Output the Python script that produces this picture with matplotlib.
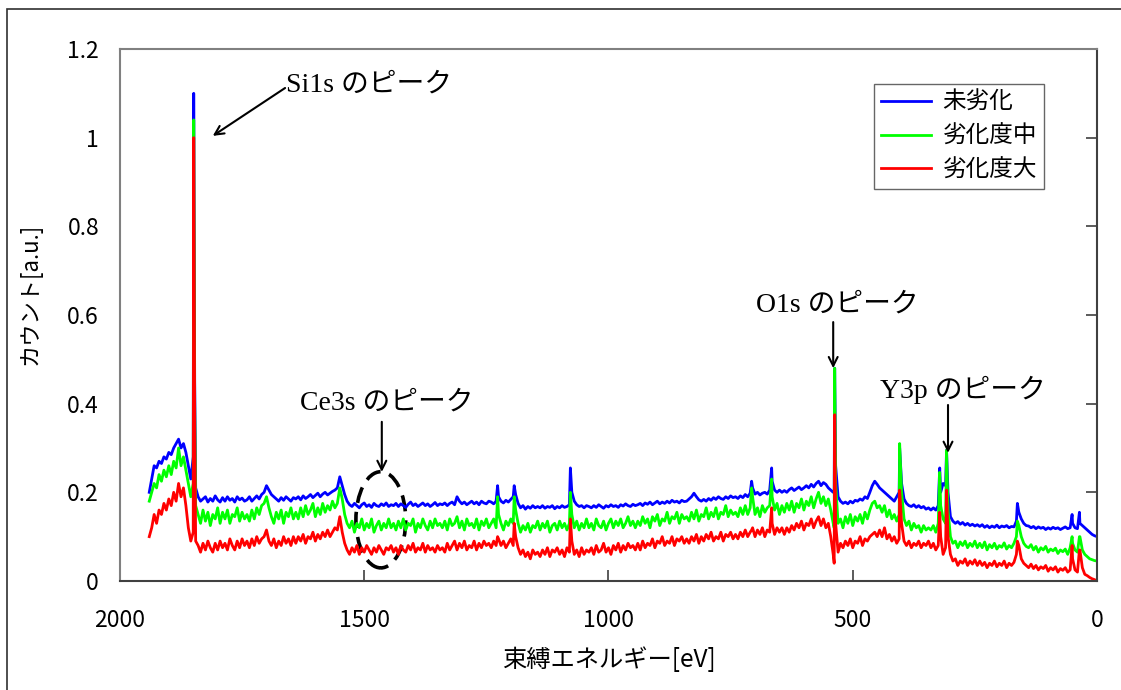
import numpy as np
import matplotlib
matplotlib.use("Agg")
import matplotlib.pyplot as plt
from matplotlib.patches import Ellipse, Rectangle

plt.rcParams['font.family'] = ['Noto Sans CJK JP', 'DejaVu Sans']

# base spectrum, read every 5 eV from 1940 eV down to 0 eV
energy = np.arange(1940, -1, -5)

blue = [
    0.20, 0.23, 0.26, 0.255, 0.27, 0.265, 0.28, 0.275, 0.29, 0.285, 0.30, 0.31, 0.32, 0.30, 0.31, 0.29, 0.26, 0.23, 0.28, 0.21,
    0.19, 0.18, 0.185, 0.19, 0.178, 0.186, 0.18, 0.192, 0.183, 0.178, 0.188, 0.18, 0.19, 0.182, 0.186, 0.178, 0.19, 0.183, 0.187, 0.18,
    0.183, 0.19, 0.18, 0.186, 0.192, 0.185, 0.195, 0.2, 0.215, 0.205, 0.195, 0.19, 0.185, 0.18, 0.188, 0.182, 0.19, 0.185, 0.18, 0.188,
    0.185, 0.19, 0.183, 0.192, 0.186, 0.19, 0.195, 0.188, 0.193, 0.198, 0.19, 0.196, 0.2, 0.194, 0.198, 0.202, 0.205, 0.21, 0.235, 0.215,
    0.195, 0.18, 0.172, 0.168, 0.175, 0.17, 0.165, 0.172, 0.176, 0.168, 0.172, 0.166, 0.175, 0.17, 0.168, 0.174, 0.17, 0.176, 0.168, 0.172,
    0.17, 0.175, 0.168, 0.174, 0.17, 0.166, 0.173, 0.178, 0.17, 0.174, 0.168, 0.172, 0.176, 0.17, 0.174, 0.168, 0.172, 0.177, 0.17, 0.174,
    0.172, 0.176, 0.17, 0.175, 0.178, 0.172, 0.19, 0.18, 0.174, 0.178, 0.172, 0.176, 0.18, 0.174, 0.178, 0.172, 0.18, 0.176, 0.174, 0.18,
    0.178, 0.174, 0.18, 0.19, 0.18, 0.176, 0.182, 0.178, 0.184, 0.19, 0.195, 0.175, 0.165, 0.17, 0.162, 0.168, 0.164, 0.17, 0.165, 0.168,
    0.165, 0.17, 0.164, 0.168, 0.166, 0.17, 0.163, 0.168, 0.165, 0.17, 0.166, 0.168, 0.172, 0.2, 0.18, 0.172, 0.168, 0.17, 0.165, 0.17,
    0.168, 0.165, 0.17, 0.166, 0.172, 0.168, 0.164, 0.17, 0.167, 0.172, 0.168, 0.17, 0.166, 0.172, 0.169, 0.174, 0.17, 0.168, 0.173, 0.17,
    0.172, 0.175, 0.17, 0.176, 0.173, 0.178, 0.172, 0.176, 0.18, 0.174, 0.178, 0.175, 0.18, 0.176, 0.182, 0.178, 0.18, 0.176, 0.182, 0.179,
    0.18, 0.185, 0.19, 0.198, 0.19, 0.183, 0.18, 0.184, 0.18, 0.186, 0.182, 0.188, 0.184, 0.19, 0.186, 0.184, 0.19, 0.186, 0.192, 0.188,
    0.19, 0.186, 0.192, 0.188, 0.195, 0.19, 0.198, 0.21, 0.196, 0.2, 0.194, 0.198, 0.2, 0.196, 0.205, 0.225, 0.205, 0.2, 0.205, 0.2,
    0.204, 0.2, 0.206, 0.21, 0.204, 0.208, 0.212, 0.206, 0.21, 0.215, 0.21, 0.218, 0.212, 0.22, 0.225, 0.215, 0.222, 0.218, 0.21, 0.205,
    0.2, 0.26, 0.19, 0.18, 0.175, 0.178, 0.174, 0.18, 0.176, 0.182, 0.18, 0.185, 0.182, 0.19, 0.186, 0.2, 0.215, 0.225, 0.218, 0.21,
    0.205, 0.2, 0.195, 0.19, 0.185, 0.18, 0.19, 0.2, 0.22, 0.185, 0.175, 0.17, 0.168, 0.172, 0.166, 0.17, 0.165, 0.168, 0.162, 0.165,
    0.16, 0.165, 0.16, 0.17, 0.2, 0.22, 0.215, 0.2, 0.145, 0.135, 0.13, 0.134, 0.128, 0.132, 0.126, 0.13, 0.125, 0.128, 0.124, 0.127,
    0.123, 0.127, 0.121, 0.125, 0.12, 0.124, 0.121, 0.126, 0.12, 0.124, 0.122, 0.125, 0.12, 0.123, 0.122, 0.135, 0.155, 0.14, 0.13, 0.125,
    0.124, 0.12, 0.123, 0.118, 0.122, 0.119, 0.121, 0.116, 0.12, 0.117, 0.121, 0.118, 0.12, 0.116, 0.119, 0.122, 0.118, 0.12, 0.13, 0.12,
    0.118, 0.13, 0.125, 0.12, 0.115, 0.11, 0.105, 0.102, 0.1,
]

green = [
    0.18, 0.2, 0.22, 0.21, 0.24, 0.225, 0.25, 0.235, 0.26, 0.24, 0.27, 0.255, 0.3, 0.26, 0.28, 0.25, 0.22, 0.19, 0.22, 0.17,
    0.15, 0.13, 0.16, 0.135, 0.155, 0.125, 0.15, 0.14, 0.165, 0.13, 0.155, 0.14, 0.16, 0.13, 0.15, 0.145, 0.165, 0.135, 0.155, 0.14,
    0.15, 0.135, 0.16, 0.14, 0.165, 0.15, 0.17, 0.175, 0.19, 0.165, 0.145, 0.13, 0.155, 0.14, 0.16, 0.13, 0.155, 0.145, 0.165, 0.14,
    0.155, 0.14, 0.165, 0.145, 0.17, 0.15, 0.16, 0.175, 0.145, 0.165, 0.15, 0.175, 0.155, 0.17, 0.16, 0.18, 0.165, 0.175, 0.21, 0.185,
    0.15, 0.13, 0.12, 0.135, 0.11, 0.13, 0.12, 0.14, 0.115, 0.13, 0.12, 0.14, 0.11, 0.125, 0.135, 0.115, 0.13, 0.12, 0.14, 0.12,
    0.13, 0.115, 0.135, 0.12, 0.14, 0.115, 0.13, 0.125, 0.14, 0.11, 0.13, 0.12, 0.14, 0.125, 0.115, 0.135, 0.12, 0.14, 0.125, 0.13,
    0.12, 0.135, 0.115, 0.14, 0.125, 0.13, 0.145, 0.12, 0.135, 0.115, 0.14, 0.125, 0.13, 0.12, 0.14, 0.115, 0.135, 0.125, 0.14, 0.12,
    0.13, 0.14, 0.12, 0.15, 0.13, 0.115, 0.135, 0.125, 0.14, 0.13, 0.16, 0.13, 0.11, 0.125, 0.115, 0.13, 0.11, 0.125, 0.12, 0.135,
    0.115, 0.13, 0.12, 0.135, 0.11, 0.125, 0.13, 0.115, 0.135, 0.12, 0.13, 0.115, 0.13, 0.15, 0.12, 0.135, 0.115, 0.13, 0.12, 0.14,
    0.12, 0.13, 0.115, 0.14, 0.125, 0.12, 0.135, 0.115, 0.13, 0.14, 0.12, 0.135, 0.125, 0.14, 0.12, 0.13, 0.145, 0.125, 0.135, 0.12,
    0.135, 0.125, 0.145, 0.13, 0.14, 0.12, 0.145, 0.135, 0.15, 0.125, 0.14, 0.135, 0.155, 0.13, 0.145, 0.14, 0.155, 0.13, 0.15, 0.14,
    0.145, 0.135, 0.155, 0.14, 0.16, 0.135, 0.15, 0.145, 0.165, 0.14, 0.155, 0.145, 0.165, 0.14, 0.155, 0.15, 0.17, 0.145, 0.16, 0.15,
    0.155, 0.145, 0.165, 0.15, 0.17, 0.15, 0.165, 0.19, 0.15, 0.165, 0.145, 0.17, 0.155, 0.165, 0.17, 0.19, 0.16, 0.175, 0.15, 0.17,
    0.155, 0.175, 0.16, 0.18, 0.155, 0.175, 0.165, 0.185, 0.16, 0.18, 0.17, 0.19, 0.165, 0.185, 0.2, 0.175, 0.19, 0.17, 0.185, 0.16,
    0.13, 0.22, 0.13, 0.14, 0.12, 0.145, 0.13, 0.15, 0.125, 0.145, 0.135, 0.15, 0.13, 0.155, 0.14, 0.16, 0.175, 0.18, 0.165, 0.17,
    0.155, 0.17, 0.145, 0.16, 0.14, 0.15, 0.135, 0.15, 0.2, 0.14, 0.125, 0.135, 0.115, 0.13, 0.12, 0.125, 0.11, 0.125, 0.115, 0.12,
    0.115, 0.125, 0.11, 0.13, 0.17, 0.14, 0.13, 0.16, 0.1, 0.085, 0.09, 0.075, 0.088, 0.08, 0.09, 0.075, 0.085, 0.078, 0.09, 0.075,
    0.085, 0.075, 0.088, 0.07, 0.082, 0.075, 0.085, 0.072, 0.08, 0.076, 0.086, 0.072, 0.08, 0.075, 0.085, 0.1, 0.125, 0.1, 0.085, 0.078,
    0.075, 0.082, 0.07, 0.078, 0.065, 0.075, 0.07, 0.078, 0.065, 0.072, 0.068, 0.074, 0.062, 0.07, 0.066, 0.072, 0.06, 0.075, 0.085, 0.07,
    0.065, 0.1, 0.07, 0.06, 0.055, 0.05, 0.048, 0.046, 0.045,
]

red = [
    0.1, 0.12, 0.15, 0.13, 0.16, 0.15, 0.175, 0.16, 0.185, 0.17, 0.2, 0.18, 0.22, 0.19, 0.21, 0.17, 0.12, 0.09, 0.11, 0.09,
    0.08, 0.065, 0.085, 0.07, 0.09, 0.075, 0.065, 0.085, 0.07, 0.09, 0.075, 0.085, 0.07, 0.095, 0.08, 0.07, 0.09, 0.075, 0.095, 0.08,
    0.09, 0.075, 0.095, 0.08, 0.1, 0.085, 0.095, 0.1, 0.115, 0.09, 0.08, 0.095, 0.075, 0.09, 0.08, 0.1, 0.085, 0.095, 0.08, 0.1,
    0.085, 0.1, 0.09, 0.105, 0.085, 0.1, 0.095, 0.11, 0.09, 0.105, 0.095, 0.11, 0.1, 0.115, 0.1, 0.11, 0.12, 0.115, 0.145, 0.11,
    0.085, 0.07, 0.06, 0.075, 0.065, 0.08, 0.06, 0.075, 0.065, 0.08, 0.07, 0.06, 0.075, 0.065, 0.08, 0.07, 0.06, 0.075, 0.07, 0.08,
    0.065, 0.075, 0.06, 0.08, 0.07, 0.065, 0.08, 0.07, 0.085, 0.065, 0.075, 0.07, 0.085, 0.065, 0.08, 0.07, 0.075, 0.065, 0.08, 0.07,
    0.075, 0.065, 0.085, 0.07, 0.08, 0.09, 0.07, 0.085, 0.075, 0.09, 0.07, 0.08, 0.075, 0.09, 0.07, 0.085, 0.075, 0.09, 0.08, 0.085,
    0.075, 0.09, 0.08, 0.095, 0.08, 0.09, 0.075, 0.085, 0.095, 0.08, 0.1, 0.075, 0.06, 0.07, 0.055, 0.065, 0.05, 0.07, 0.06, 0.065,
    0.055, 0.07, 0.06, 0.075, 0.055, 0.07, 0.065, 0.075, 0.06, 0.07, 0.055, 0.075, 0.065, 0.09, 0.06, 0.07, 0.055, 0.075, 0.06, 0.07,
    0.065, 0.075, 0.06, 0.08, 0.065, 0.07, 0.085, 0.065, 0.075, 0.06, 0.08, 0.07, 0.085, 0.065, 0.08, 0.07, 0.085, 0.075, 0.08, 0.07,
    0.085, 0.07, 0.09, 0.075, 0.085, 0.08, 0.095, 0.075, 0.09, 0.085, 0.1, 0.08, 0.09, 0.085, 0.1, 0.08, 0.095, 0.09, 0.1, 0.085,
    0.095, 0.085, 0.1, 0.09, 0.105, 0.085, 0.1, 0.09, 0.105, 0.095, 0.11, 0.09, 0.1, 0.095, 0.11, 0.09, 0.105, 0.1, 0.11, 0.095,
    0.105, 0.095, 0.11, 0.1, 0.115, 0.1, 0.11, 0.12, 0.1, 0.115, 0.105, 0.12, 0.1, 0.115, 0.11, 0.13, 0.105, 0.12, 0.11, 0.12,
    0.105, 0.12, 0.11, 0.125, 0.115, 0.13, 0.12, 0.135, 0.115, 0.13, 0.125, 0.14, 0.12, 0.135, 0.145, 0.125, 0.14, 0.12, 0.13, 0.1,
    0.06, 0.13, 0.065, 0.085, 0.075, 0.09, 0.08, 0.095, 0.075, 0.09, 0.085, 0.1, 0.08, 0.095, 0.09, 0.1, 0.105, 0.11, 0.1, 0.115,
    0.1, 0.12, 0.095, 0.105, 0.09, 0.1, 0.085, 0.095, 0.13, 0.09, 0.08, 0.09, 0.075, 0.085, 0.08, 0.09, 0.075, 0.085, 0.08, 0.09,
    0.075, 0.085, 0.07, 0.08, 0.1, 0.06, 0.075, 0.1, 0.06, 0.045, 0.05, 0.035, 0.045, 0.04, 0.05, 0.035, 0.045, 0.038, 0.048, 0.035,
    0.045, 0.035, 0.042, 0.03, 0.04, 0.035, 0.045, 0.032, 0.04, 0.035, 0.045, 0.03, 0.04, 0.035, 0.042, 0.06, 0.08, 0.05, 0.04, 0.035,
    0.03, 0.038, 0.028, 0.035, 0.025, 0.032, 0.028, 0.035, 0.022, 0.03, 0.025, 0.032, 0.02, 0.028, 0.024, 0.03, 0.02, 0.025, 0.05, 0.025,
    0.02, 0.07, 0.03, 0.015, 0.012, 0.008, 0.005, 0.003, 0.0,
]

# narrow peak tops read between the 5 eV samples
peak_energy = [1849, 1847, 1227, 1193, 1078, 707, 666, 538, 537, 404, 322, 308, 163, 51, 36]
peak_blue = [1.10, 0.45, 0.215, 0.215, 0.255, 0.225, 0.255, 0.20, 0.48, 0.30, 0.255, 0.295, 0.175, 0.15, 0.155]
peak_green = [1.04, 0.40, 0.19, 0.19, 0.20, 0.21, 0.23, 0.12, 0.48, 0.31, 0.245, 0.295, 0.135, 0.10, 0.10]
peak_red = [1.00, 0.35, 0.10, 0.13, 0.14, 0.115, 0.165, 0.04, 0.375, 0.205, 0.155, 0.205, 0.09, 0.08, 0.07]

labels = ['未劣化', '劣化度中', '劣化度大']
colors = ['#0000ff', '#00ff00', '#ff0000']

assert len(blue) == len(green) == len(red) == len(energy)


def merge(base, peaks):
    e = np.concatenate([energy, peak_energy])
    v = np.concatenate([base, peaks])
    order = np.argsort(-e, kind='stable')
    return e[order], v[order]


fig = plt.figure(figsize=(11.21, 6.9), dpi=100)
ax = fig.add_axes([0.107, 0.158, 0.8716, 0.771])

for base, peaks, lab, col in zip([blue, green, red], [peak_blue, peak_green, peak_red], labels, colors):
    e, v = merge(base, peaks)
    ax.plot(e, v, color=col, lw=2.0, label=lab)

ax.set_xlim(2000, 0)
ax.set_ylim(0, 1.2)
ax.set_xticks([2000, 1500, 1000, 500, 0])
ax.set_yticks([0, 0.2, 0.4, 0.6, 0.8, 1.0, 1.2])
ax.set_yticklabels(['0', '0.2', '0.4', '0.6', '0.8', '1', '1.2'])
ax.tick_params(axis='x', direction='in', length=8, width=1.2, color='#404040',
               labelsize=16.5, pad=20)
ax.tick_params(axis='y', direction='in', length=8, width=1.2, color='#404040',
               left=False, right=True, labelleft=True, labelright=False,
               labelsize=16.5, pad=15)
for side in ['left', 'top']:
    ax.spines[side].set_color('#808080')
    ax.spines[side].set_linewidth(1.5)
for side in ['bottom', 'right']:
    ax.spines[side].set_color('#404040')
    ax.spines[side].set_linewidth(1.5)

ax.set_xlabel('束縛エネルギー[eV]', fontsize=17.5, va='center')
ax.xaxis.set_label_coords(0.5, -0.1485)
ax.set_ylabel('カウント[a.u.]', fontsize=16, va='center')
ax.yaxis.set_label_coords(-0.092, 0.54)

leg = ax.legend(loc='upper right', bbox_to_anchor=(0.946, 0.934), fontsize=17,
                frameon=True, fancybox=False, handlelength=2.1, handletextpad=0.5,
                borderpad=0.3, labelspacing=0.45, borderaxespad=0)
leg.get_frame().set_edgecolor('#404040')
leg.get_frame().set_linewidth(1.0)

ann_font = ['Liberation Serif', 'Noto Sans CJK JP']
arrow = dict(arrowstyle='->', color='black', lw=1.5, mutation_scale=16, shrinkA=0, shrinkB=0)

ax.annotate('', xy=(1810, 1.004), xytext=(1662, 1.112), arrowprops=arrow)
ax.text(1660, 1.119, 'Si1s のピーク', family=ann_font, fontsize=20, va='center', ha='left')

ax.annotate('', xy=(1464, 0.246), xytext=(1464, 0.359), arrowprops=arrow)
ax.text(1453, 0.401, 'Ce3s のピーク', family=ann_font, fontsize=20, va='center', ha='center')
ax.add_patch(Ellipse((1466, 0.138), 102, 0.217, fill=False, edgecolor='black',
                     lw=2.6, linestyle=(0, (4.5, 2.5))))

ax.annotate('', xy=(540, 0.48), xytext=(540, 0.584), arrowprops=arrow)
ax.text(532, 0.623, 'O1s のピーク', family=ann_font, fontsize=20, va='center', ha='center')

ax.annotate('', xy=(305, 0.289), xytext=(305, 0.397), arrowprops=arrow)
ax.text(274, 0.431, 'Y3p のピーク', family=ann_font, fontsize=20, va='center', ha='center')

# outer frame (only its left and top edges fall inside the picture)
fig.patches.append(Rectangle((7 / 1121, -0.1), 1.2, (690 - 9) / 690 + 0.1,
                             transform=fig.transFigure, fill=False,
                             edgecolor='#303030', lw=1.2))

fig.savefig('out.png', dpi=100)
